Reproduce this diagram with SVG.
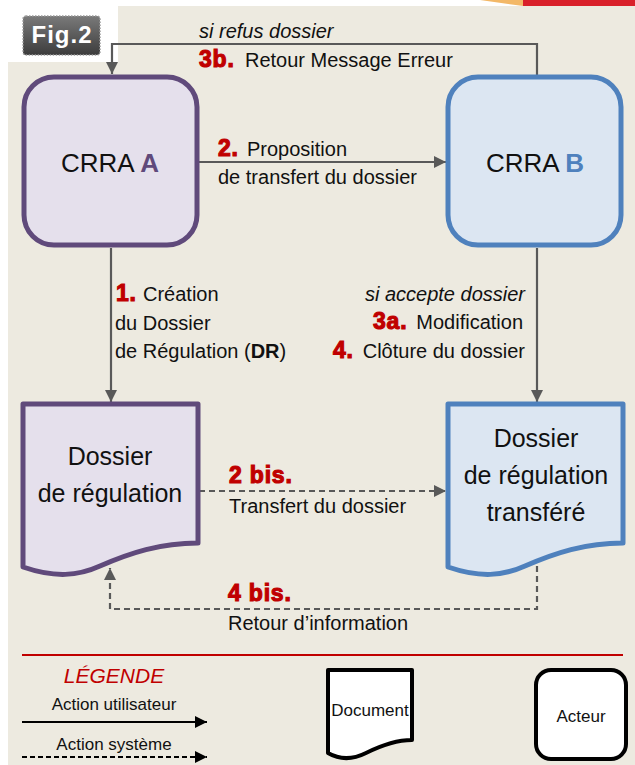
<svg xmlns="http://www.w3.org/2000/svg" width="635" height="765" viewBox="0 0 635 765">
<style>
text{font-family:"Liberation Sans",Arial,sans-serif;fill:#111;}
.lbl{font-size:20px;}
.it{font-style:italic;}
.num{font-size:23px;font-weight:bold;fill:#C00000;stroke:#C00000;stroke-width:1.1;letter-spacing:0.8px;}
.big{font-size:25px;}
.leg{font-size:17px;}
.conn{fill:none;stroke:#595959;stroke-width:2.2;}
.dash{stroke-dasharray:6,4;}
</style>
<defs>
<marker id="ah" markerUnits="userSpaceOnUse" markerWidth="14" markerHeight="14" refX="12" refY="6" orient="auto">
<path d="M0,0 L12,6 L0,12 Z" fill="#595959"/>
</marker>
<marker id="ahk" markerUnits="userSpaceOnUse" markerWidth="14" markerHeight="14" refX="12" refY="6" orient="auto">
<path d="M0,0 L12,6 L0,12 Z" fill="#000"/>
</marker>
<linearGradient id="badge" x1="0" y1="0" x2="0" y2="1">
<stop offset="0" stop-color="#7a7a7a"/>
<stop offset="1" stop-color="#3c3c3c"/>
</linearGradient>
</defs>
<rect width="635" height="765" fill="#ffffff"/>
<path d="M118,6 H635 V765 H8 V62 H118 Z" fill="#EDEAE0"/>
<polygon points="480,0 523,0 523,6" fill="#F3B867"/>
<rect x="523" y="0" width="112" height="6" fill="#D9202A"/>
<g id="badge-fig2">
<rect x="23" y="16" width="77" height="39" rx="3" fill="url(#badge)" stroke="#9a9a9a" stroke-width="1.5" stroke-dasharray="1.5,1.5"/>
<text x="62" y="43" text-anchor="middle" style="font-size:24px;font-weight:bold;fill:#fff;letter-spacing:1px;">Fig.2</text>
</g>
<g id="connectors">
<polyline class="conn" points="537,75 537,44 112,44 112,74" marker-end="url(#ah)"/>
<line class="conn" x1="199" y1="162" x2="446" y2="162" marker-end="url(#ah)"/>
<line class="conn" x1="111" y1="248" x2="111" y2="402" marker-end="url(#ah)"/>
<line class="conn" x1="537" y1="248" x2="537" y2="402" marker-end="url(#ah)"/>
<line class="conn dash" x1="199" y1="491" x2="446" y2="491" marker-end="url(#ah)"/>
<polyline class="conn dash" points="537,566 537,609 110,609 110,568" marker-end="url(#ah)"/>
</g>
<g id="connector-labels">
<text class="lbl it" x="199" y="38">si refus dossier</text>
<text class="num" x="199" y="67">3b.</text>
<text class="lbl" x="245" y="67">Retour Message Erreur</text>
<text class="num" x="218" y="156">2.</text>
<text class="lbl" x="247" y="156">Proposition</text>
<text class="lbl" x="218" y="184">de transfert du dossier</text>
<text class="num" x="116" y="301">1.</text>
<text class="lbl" x="143" y="301">Création</text>
<text class="lbl" x="115" y="330">du Dossier</text>
<text class="lbl" x="115" y="358">de Régulation (<tspan font-weight="bold">DR</tspan>)</text>
<text class="lbl it" x="525" y="301" text-anchor="end">si accepte dossier</text>
<text class="num" x="373" y="329">3a.</text>
<text class="lbl" x="523" y="329" text-anchor="end">Modification</text>
<text class="num" x="333" y="358">4.</text>
<text class="lbl" x="525" y="358" text-anchor="end">Clôture du dossier</text>
<text class="num" x="229" y="483">2 bis.</text>
<text class="lbl" x="229" y="513">Transfert du dossier</text>
<text class="num" x="228" y="601">4 bis.</text>
<text class="lbl" x="228" y="630">Retour d’information</text>
</g>
<g id="crra-a">
<rect x="24" y="77" width="173" height="168" rx="30" fill="#E5E0EC" stroke="#604A7B" stroke-width="5"/>
<text x="110" y="172" text-anchor="middle" style="font-size:26px;">CRRA <tspan font-weight="bold" style="fill:#604A7B">A</tspan></text>
</g>
<g id="crra-b">
<rect x="448" y="77" width="173" height="168" rx="30" fill="#DCE6F2" stroke="#4F81BD" stroke-width="5"/>
<text x="535" y="172" text-anchor="middle" style="font-size:26px;">CRRA <tspan font-weight="bold" style="fill:#4F81BD">B</tspan></text>
</g>
<g id="doc-a">
<path d="M23,404 H198 V543 C160,543 130,553 100,566 C78,576 55,578 23,567 Z" fill="#E5E0EC" stroke="#604A7B" stroke-width="5" stroke-linejoin="round"/>
<text class="big" x="110" y="465" text-anchor="middle">Dossier</text>
<text class="big" x="110" y="502" text-anchor="middle">de régulation</text>
</g>
<g id="doc-b">
<path d="M448,404 H623 V543 C585,543 555,553 525,566 C503,576 480,578 448,567 Z" fill="#DCE6F2" stroke="#4F81BD" stroke-width="5" stroke-linejoin="round"/>
<text class="big" x="536" y="447" text-anchor="middle">Dossier</text>
<text class="big" x="536" y="484" text-anchor="middle">de régulation</text>
<text class="big" x="536" y="521" text-anchor="middle">transféré</text>
</g>
<g id="legend">
<line x1="22" y1="655" x2="623" y2="655" stroke="#C00000" stroke-width="2"/>
<text x="114" y="683" text-anchor="middle" style="font-size:21px;font-style:italic;fill:#C00000;">LÉGENDE</text>
<text class="leg" x="114" y="710" text-anchor="middle">Action utilisateur</text>
<line x1="22" y1="722" x2="207" y2="722" stroke="#000" stroke-width="2" marker-end="url(#ahk)"/>
<text class="leg" x="114" y="750" text-anchor="middle">Action système</text>
<line x1="22" y1="757" x2="207" y2="757" stroke="#000" stroke-width="2" stroke-dasharray="5,3" marker-end="url(#ahk)"/>
</g>
<g id="legend-document">
<path d="M328,670 H412 V740 C395,740 380,746 366,753 C352,760 340,760 328,753 Z" fill="#fff" stroke="#000" stroke-width="4" stroke-linejoin="round"/>
<text class="leg" x="370" y="716" text-anchor="middle">Document</text>
</g>
<g id="legend-acteur">
<rect x="536" y="670" width="90" height="89" rx="15" fill="#fff" stroke="#000" stroke-width="4"/>
<text class="leg" x="581" y="722" text-anchor="middle">Acteur</text>
</g>
</svg>
